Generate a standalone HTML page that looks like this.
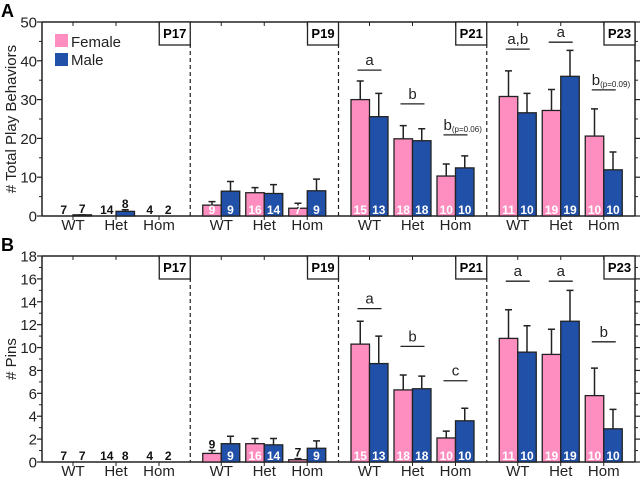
<!DOCTYPE html>
<html><head><meta charset="utf-8"><style>
body{margin:0;background:#fff;}
svg{display:block;font-family:"Liberation Sans",Arial,sans-serif;}
</style></head><body>
<svg id="c" width="640" height="477" viewBox="0 0 640 477"></svg>
<script>
const ages=["P17","P19","P21","P23"];
const genotypes=["WT","Het","Hom"];
const aFemale=[0,0,0, 2.8,6,2, 30,19.9,10.3, 30.8,27.2,20.6];
const aFemaleErr=[0,0,0, 0.9,1.3,1.3, 4.8,3.4,3.1, 6.6,5.4,7];
const aMale=[0.3,1.2,0, 6.4,5.8,6.5, 25.6,19.4,12.4, 26.6,36,11.9];
const aMaleErr=[0,0.4,0, 2.5,2.3,3, 6,3.1,3.1, 5,6.7,4.6];
const bFemale=[0,0,0, 0.75,1.6,0.2, 10.3,6.3,2.1, 10.8,9.4,5.8];
const bFemaleErr=[0,0,0, 0.25,0.45,0.1, 2,1.3,0.6, 2.5,2.2,2.4];
const bMale=[0,0,0, 1.6,1.5,1.2, 8.6,6.4,3.6, 9.6,12.3,2.9];
const bMaleErr=[0,0,0, 0.65,0.55,0.65, 2.4,1.1,1.1, 2.3,2.7,1.7];
const nFemale=[7,14,4, 9,16,7, 15,18,10, 11,19,10];
const nMale=[7,8,2, 9,14,9, 13,18,10, 10,19,10];
const aSig=[[6,"a",37.6,""],[7,"b",28.9,""],[8,"b",20.9,"(p=0.06)"],[9,"a,b",43,""],[10,"a",44.8,""],[11,"b",32.5,"(p=0.09)"]];
const bSig=[[6,"a",13.4,""],[7,"b",10.1,""],[8,"c",7.1,""],[9,"a",15.8,""],[10,"a",15.8,""],[11,"b",10.5,""]];
const aTicks=[0,10,20,30,40,50];
const bTicks=[0,2,4,6,8,10,12,14,16,18];

const svg=document.getElementById('c');
const NS="http://www.w3.org/2000/svg";
function mk(t,a,p){const e=document.createElementNS(NS,t);for(const k in a)e.setAttribute(k,a[k]);(p||svg).appendChild(e);return e;}
const X0=42,X1=635,SEC=(X1-X0)/4,BW=18.5;
function gx(i){const s=Math.floor(i/3),g=i%3;return X0+s*SEC+31+g*43;}

function panel(o){
  const g=mk('g',{});
  
  
  const y=v=>o.bot-(v/o.max)*(o.bot-o.top);
  const lt=mk('text',{x:1,y:o.top-5,'font-size':18,'font-weight':'bold'},g);lt.textContent=o.letter;
  
  mk('line',{x1:X0,y1:o.top,x2:X1,y2:o.top,stroke:'#222','stroke-width':1.5},g);
  const la=mk('line',{x1:X0,y1:o.top,x2:X0,y2:o.bot,stroke:'#222','stroke-width':1.5},g);
  
  mk('line',{x1:X1,y1:o.top,x2:X1,y2:o.bot,stroke:'#222','stroke-width':1.5},g);
  const xa=mk('line',{x1:X0,y1:o.bot,x2:X1,y2:o.bot,stroke:'#222','stroke-width':1.5},g);
  
  const step=o.ticks[1]-o.ticks[0];
  for(let k=0;k<o.ticks.length;k++){
    const v=o.ticks[k],yy=y(v);
    mk('line',{x1:X0-5,y1:yy,x2:X0,y2:yy,stroke:'#222','stroke-width':1.2},g);
    mk('line',{x1:X1,y1:yy,x2:X1+5,y2:yy,stroke:'#222','stroke-width':1.2},g);
    if(k<o.ticks.length-1){const ym=y(v+step/2);
      mk('line',{x1:X0-3,y1:ym,x2:X0,y2:ym,stroke:'#222','stroke-width':1},g);
      mk('line',{x1:X1,y1:ym,x2:X1+3,y2:ym,stroke:'#222','stroke-width':1},g);}
    const t=mk('text',{x:X0-5,y:yy+5.5,'font-size':15,'text-anchor':'end',fill:'#222'},g);t.textContent=v;
    
  }
  const yt=mk('text',{x:0,y:0,'font-size':15,'text-anchor':'middle',fill:'#222',transform:`translate(16,${(o.top+o.bot)/2}) rotate(-90)`},g);
  yt.textContent=o.ytitle;
  for(let s=0;s<4;s++){
    const sx=X0+(s+1)*SEC;
    if(s<3){const d=mk('line',{x1:sx,y1:o.top+22,x2:sx,y2:o.bot,stroke:'#222','stroke-width':1.2,'stroke-dasharray':'4,3'},g);
      }
    const bx=mk('rect',{x:sx-31,y:o.top,width:31,height:23,fill:'#fff',stroke:'#222','stroke-width':1.3},g);
    
    const at=mk('text',{x:sx-15.5,y:o.top+16,'font-size':13,'font-weight':'bold','text-anchor':'middle'},g);
    at.textContent=ages[s];
  }
  for(let i=0;i<12;i++){
    const cx=gx(i);
    mk('line',{x1:cx,y1:o.top,x2:cx,y2:o.top+4,stroke:'#222','stroke-width':1},g);
    mk('line',{x1:cx,y1:o.bot,x2:cx,y2:o.bot+4,stroke:'#222','stroke-width':1},g);
    const xl=mk('text',{x:cx,y:o.bot+14,'font-size':15,'text-anchor':'middle',fill:'#222'},g);
    xl.textContent=genotypes[i%3];
    const sets=[[o.f,o.fe,nFemale,'#ff8ec0',cx-BW,'female'],[o.m,o.me,nMale,'#2150a8',cx,'male']];
    for(const [vals,errs,ns,col,bx,sex] of sets){
      const v=vals[i];
      if(v>0){
        const r=mk('rect',{x:bx,y:y(v),width:BW,height:o.bot-y(v),fill:col,stroke:'#222','stroke-width':1.3},g);
        
        const e=v+errs[i];
        const el=mk('path',{d:`M${bx+BW/2},${y(v)}V${y(e)}M${bx+BW/2-3.5},${y(e)}H${bx+BW/2+3.5}`,stroke:'#222','stroke-width':1.5,fill:'none'},g);
        
      }
      const tall=(o.bot-y(v))>10 || v>=2;
      const nt=mk('text',{x:bx+BW/2,y:tall?o.bot-2:y(v+errs[i])-2,'font-size':12,'font-weight':'bold','text-anchor':'middle',fill:tall?'#fff':'#111'},g);
      nt.textContent=ns[i];
    }
  }
  for(const [i,l,v,sub] of o.sig){
    const cx=gx(i),yy=y(v);
    mk('line',{x1:cx-12,y1:yy,x2:cx+12,y2:yy,stroke:'#222','stroke-width':1.3},g);
    const t=mk('text',{x:sub?cx-12:cx,y:yy-5,'font-size':15,'text-anchor':sub?'start':'middle',fill:'#222'},g);
    t.textContent=l;
    if(sub){const s=mk('tspan',{'font-size':8,dy:2},t);s.textContent=sub;}
  }
}
panel({name:'panel-a-total-play',letter:'A',top:22,bot:216,max:50,ticks:aTicks,ytitle:'# Total Play Behaviors',f:aFemale,fe:aFemaleErr,m:aMale,me:aMaleErr,sig:aSig});
panel({name:'panel-b-pins',letter:'B',top:256,bot:462,max:18,ticks:bTicks,ytitle:'# Pins',f:bFemale,fe:bFemaleErr,m:bMale,me:bMaleErr,sig:bSig});
const lg=mk('g',{});
const lf=mk('rect',{x:55,y:34,width:13,height:13,fill:'#ff8ec0'},lg);
const lt1=mk('text',{x:71,y:47,'font-size':15,fill:'#222'},lg);lt1.textContent='Female';
const lm=mk('rect',{x:55,y:53,width:13,height:13,fill:'#2150a8'},lg);
const lt2=mk('text',{x:71,y:65,'font-size':15,fill:'#222'},lg);lt2.textContent='Male';
</script>
</body></html>
